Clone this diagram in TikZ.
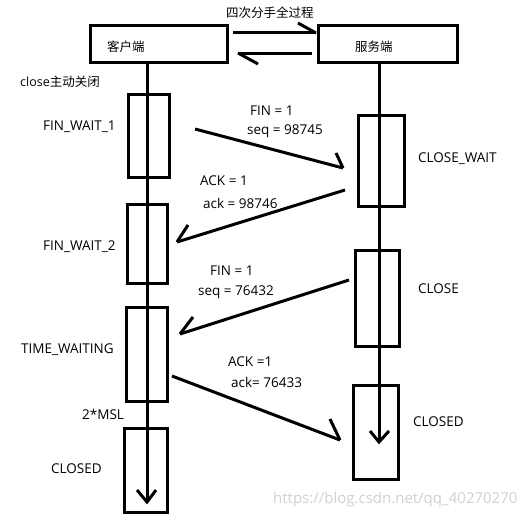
\documentclass[tikz,border=0pt]{standalone}
\usepackage{fontspec}
\setmainfont{Open Sans}
\newfontfamily\cjk{Noto Sans CJK SC}
\begin{document}
\begin{tikzpicture}[x=1pt,y=-1pt,
  lw/.style={line width=3pt},
  box/.style={draw,line width=3pt,rectangle,inner sep=0pt},
  lbl/.style={font=\fontsize{13.5}{15}\selectfont,inner sep=0pt,anchor=west},
  clbl/.style={font=\cjk\fontsize{12.5}{14}\selectfont,inner sep=0pt,anchor=west},
  wm/.style={font=\fontsize{15}{17}\selectfont,inner sep=0pt,anchor=west,text=black!18},
]
\useasboundingbox[fill=white] (0,0) rectangle (529,519);
% header boxes
\node[box,minimum width=137pt,minimum height=36pt] (client) at (158.5,44) {};
\node[box,minimum width=139pt,minimum height=36pt] (server) at (387.5,44) {};
\node[clbl] (tclient) at (107,47) {客户端};
\node[clbl] (tserver) at (355,47) {服务端};
\node[clbl] (title) at (226,13) {四次分手全过程};
\node[clbl] (tclose) at (20,82) {{\fontspec{Open Sans}close}主动关闭};
% header arrows
\coordinate (h1a) at (233,33); \coordinate (h1b) at (316,33); \coordinate (h1c) at (298,23);
\coordinate (h2a) at (312,53); \coordinate (h2b) at (238,53); \coordinate (h2c) at (258,64);
\draw[lw] (h1a) -- (h1b); \draw[lw] (h1c) -- (h1b);
\draw[lw] (h2a) -- (h2b); \draw[lw] (h2c) -- (h2b);
% lifelines
\coordinate (cend) at (147,502);
\coordinate (send) at (379,442);
\draw[lw] (client.south -| cend) -- (cend);
\draw[lw] (server.south -| send) -- (send);
\coordinate (cb1) at (137,490); \coordinate (cb2) at (156,490);
\coordinate (sb1) at (370,431); \coordinate (sb2) at (389,431);
\draw[lw] (cb1) -- (cend) -- (cb2);
\draw[lw] (sb1) -- (send) -- (sb2);
% client state boxes
\node[box,minimum width=41pt,minimum height=83pt] (c1) at (148.5,135.5) {};
\node[box,minimum width=40pt,minimum height=79pt] (c2) at (147,243.5) {};
\node[box,minimum width=41pt,minimum height=94pt] (c3) at (146.5,354) {};
\node[box,minimum width=43pt,minimum height=84pt] (c4) at (145.5,470) {};
% server state boxes
\node[box,minimum width=46pt,minimum height=91pt] (s1) at (381,160.5) {};
\node[box,minimum width=44pt,minimum height=96pt] (s2) at (377,298) {};
\node[box,minimum width=45pt,minimum height=94pt] (s3) at (375.5,432) {};
% state labels
\node[lbl] (lfw1) at (43,127) {FIN\_WAIT\_1};
\node[lbl] (lfw2) at (43,247) {FIN\_WAIT\_2};
\node[lbl] (ltw) at (21,350) {TIME\_WAITING};
\node[lbl] (lmsl) at (82,414) {2*MSL};
\node[lbl] (lcl) at (51,469) {CLOSED};
\node[lbl] (lcw) at (418,159) {CLOSE\_WAIT};
\node[lbl] (lcs) at (418,289) {CLOSE};
\node[lbl] (lcr) at (413,422) {CLOSED};
% message arrows
\coordinate (m1a) at (195,129); \coordinate (m1b) at (343,168); \coordinate (m1c) at (336,153);
\coordinate (m2a) at (345,190); \coordinate (m2b) at (177,242); \coordinate (m2c) at (188,225);
\coordinate (m3a) at (349,280); \coordinate (m3b) at (180,334); \coordinate (m3c) at (193,317);
\coordinate (m4a) at (172,376); \coordinate (m4b) at (340,440); \coordinate (m4c) at (330,419);
\draw[lw] (m1a) -- (m1b); \draw[lw] (m1c) -- (m1b);
\draw[lw] (m2a) -- (m2b); \draw[lw] (m2c) -- (m2b);
\draw[lw] (m3a) -- (m3b); \draw[lw] (m3c) -- (m3b);
\draw[lw] (m4a) -- (m4b); \draw[lw] (m4c) -- (m4b);
% message labels
\node[lbl] (f1) at (250,111) {FIN = 1};
\node[lbl] (q1) at (247,131) {seq = 98745};
\node[lbl] (a1) at (200,181) {ACK = 1};
\node[lbl] (k1) at (203,203) {ack = 98746};
\node[lbl] (f2) at (210,271) {FIN = 1};
\node[lbl] (q2) at (198,292) {seq = 76432};
\node[lbl] (a2) at (228,362) {ACK =1};
\node[lbl] (k2) at (231,382) {ack= 76433};
% watermark
\node[wm] (wmark) at (273,500) {https://blog.csdn.net/qq\_40270270};
\end{tikzpicture}
\end{document}
